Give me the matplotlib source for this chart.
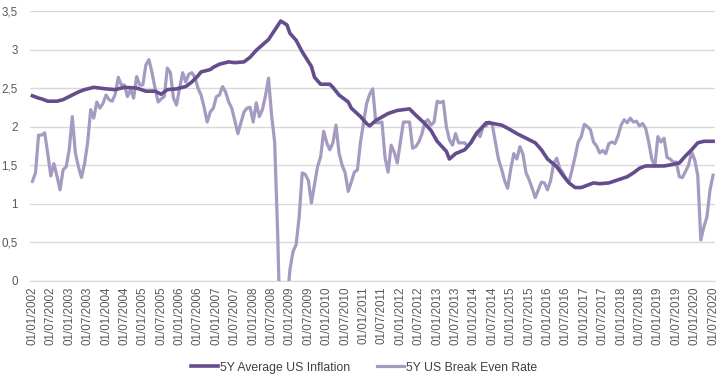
import matplotlib
matplotlib.use("Agg")
import matplotlib.pyplot as plt
from matplotlib.ticker import FuncFormatter

# 5Y US Break Even Rate, monthly from 01/2002 to 07/2020
breakeven = [
    1.29, 1.40, 1.89, 1.89, 1.92, 1.65, 1.36, 1.52, 1.36, 1.18, 1.44, 1.48,   # 2002
    1.70, 2.13, 1.66, 1.48, 1.34, 1.52, 1.79, 2.22, 2.11, 2.32, 2.24, 2.30,   # 2003
    2.41, 2.35, 2.33, 2.42, 2.64, 2.54, 2.54, 2.39, 2.48, 2.37, 2.65, 2.54,   # 2004
    2.54, 2.80, 2.87, 2.70, 2.50, 2.32, 2.36, 2.39, 2.76, 2.70, 2.37, 2.28,   # 2005
    2.50, 2.70, 2.58, 2.68, 2.70, 2.64, 2.50, 2.41, 2.25, 2.06, 2.19, 2.24,   # 2006
    2.39, 2.41, 2.52, 2.45, 2.32, 2.24, 2.08, 1.91, 2.05, 2.19, 2.24, 2.25,   # 2007
    2.06, 2.31, 2.13, 2.22, 2.40, 2.63, 2.15, 1.80, 0.60, -1.0, -1.5, -0.3,   # 2008
    0.15, 0.38, 0.47, 0.83, 1.40, 1.38, 1.30, 1.01, 1.25, 1.48, 1.61, 1.94,   # 2009
    1.79, 1.70, 1.79, 2.02, 1.66, 1.50, 1.40, 1.16, 1.28, 1.41, 1.44, 1.80,   # 2010
    2.05, 2.30, 2.42, 2.49, 2.05, 2.05, 2.06, 1.60, 1.41, 1.76, 1.67, 1.53,   # 2011
    1.80, 2.06, 2.06, 2.06, 1.72, 1.74, 1.80, 1.90, 2.06, 2.09, 2.02, 2.06,   # 2012
    2.33, 2.31, 2.33, 2.00, 1.83, 1.76, 1.91, 1.79, 1.79, 1.79, 1.74, 1.80,   # 2013
    1.87, 1.93, 1.87, 2.00, 2.01, 2.06, 2.02, 1.80, 1.58, 1.45, 1.30, 1.20,   # 2014
    1.45, 1.65, 1.58, 1.74, 1.64, 1.40, 1.31, 1.20, 1.08, 1.18, 1.28, 1.27,   # 2015
    1.18, 1.30, 1.52, 1.59, 1.46, 1.40, 1.32, 1.28, 1.44, 1.61, 1.80, 1.87,   # 2016
    2.03, 2.00, 1.96, 1.80, 1.75, 1.66, 1.69, 1.65, 1.78, 1.80, 1.78, 1.88,   # 2017
    2.02, 2.09, 2.05, 2.11, 2.06, 2.07, 2.01, 2.04, 1.98, 1.80, 1.58, 1.49,   # 2018
    1.87, 1.80, 1.85, 1.60, 1.58, 1.54, 1.54, 1.35, 1.34, 1.42, 1.50, 1.67,   # 2019
    1.57, 1.37, 0.53, 0.70, 0.83, 1.18, 1.37,                                 # 2020
]

# 5Y Average US Inflation, read at these month numbers (0 = 01/2002)
avg_months = [0, 2, 3, 5, 8, 10, 12, 15, 17, 20, 22, 24, 27, 30, 34, 37, 40,
              42, 44, 47, 50, 52, 54, 55, 58, 59, 61, 64, 66, 69, 71, 73, 75,
              77, 79, 81, 83, 84, 86, 88, 91, 92, 94, 97, 98, 100, 103, 104,
              107, 109, 110, 112, 116, 119, 123, 125, 128, 130, 132, 135, 136,
              138, 141, 143, 145, 148, 149, 153, 155, 158, 161, 164, 166, 168,
              171, 173, 175, 177, 179, 181, 183, 185, 188, 191, 194, 196, 198,
              200, 203, 206, 209, 211, 213, 215, 217, 219, 222]
avg_values = [2.40, 2.37, 2.36, 2.33, 2.33, 2.35, 2.39, 2.45, 2.48, 2.51, 2.50,
              2.49, 2.48, 2.51, 2.50, 2.46, 2.46, 2.42, 2.48, 2.49, 2.52, 2.58,
              2.66, 2.71, 2.74, 2.77, 2.81, 2.84, 2.83, 2.84, 2.90, 2.99, 3.06,
              3.13, 3.25, 3.37, 3.32, 3.21, 3.12, 2.97, 2.78, 2.64, 2.55, 2.55,
              2.51, 2.41, 2.32, 2.24, 2.13, 2.04, 2.01, 2.08, 2.17, 2.21, 2.23,
              2.15, 2.04, 1.95, 1.81, 1.68, 1.58, 1.65, 1.70, 1.79, 1.92, 2.05,
              2.05, 2.02, 1.98, 1.91, 1.85, 1.79, 1.70, 1.58, 1.48, 1.37, 1.27,
              1.21, 1.21, 1.24, 1.27, 1.26, 1.27, 1.31, 1.35, 1.40, 1.46, 1.49,
              1.49, 1.49, 1.51, 1.53, 1.62, 1.70, 1.79, 1.81, 1.81]

years = list(range(2002, 2021))
tick_labels = [f"01/{mm}/{y}" for y in years for mm in ("01", "07")]

dark = "#654c8c"
light = "#a59ac0"

plt.rcParams["font.family"] = ["Liberation Sans", "DejaVu Sans"]
fig = plt.figure(figsize=(7.21, 3.79), dpi=100)
ax = fig.add_axes([0.042, 0.259, 0.950, 0.712])

months = list(range(len(breakeven)))
ax.plot(avg_months, avg_values, color=dark, lw=2.6, label="5Y Average US Inflation",
        solid_joinstyle="round", zorder=3)
ax.plot(months, breakeven, color=light, lw=2.3, label="5Y US Break Even Rate",
        solid_joinstyle="round", zorder=2)

ax.set_ylim(0, 3.5)
ax.set_xlim(-0.7, 222.7)
ax.set_yticks([0, 0.5, 1, 1.5, 2, 2.5, 3, 3.5])
ax.yaxis.set_major_formatter(FuncFormatter(lambda v, p: f"{v:g}".replace(".", ",")))
ax.set_xticks(range(0, 223, 6))
ax.set_xticklabels(tick_labels, rotation=90)
ax.tick_params(axis="both", colors="#595959", labelsize=8.4, length=0)
ax.tick_params(axis="y", pad=9)
ax.tick_params(axis="x", pad=4)
ax.grid(axis="y", color="#d9d9d9", lw=1)
ax.set_axisbelow(True)
for s in ["top", "right", "left"]:
    ax.spines[s].set_visible(False)
ax.spines["bottom"].set_color("#d9d9d9")

fig.legend(loc="center", bbox_to_anchor=(0.505, 0.03), ncol=2, frameon=False,
           fontsize=8.8, handlelength=2.2, columnspacing=2.2, handletextpad=0.15,
           labelcolor="#404040", borderaxespad=0, borderpad=0)

fig.savefig("out.png", dpi=100)
